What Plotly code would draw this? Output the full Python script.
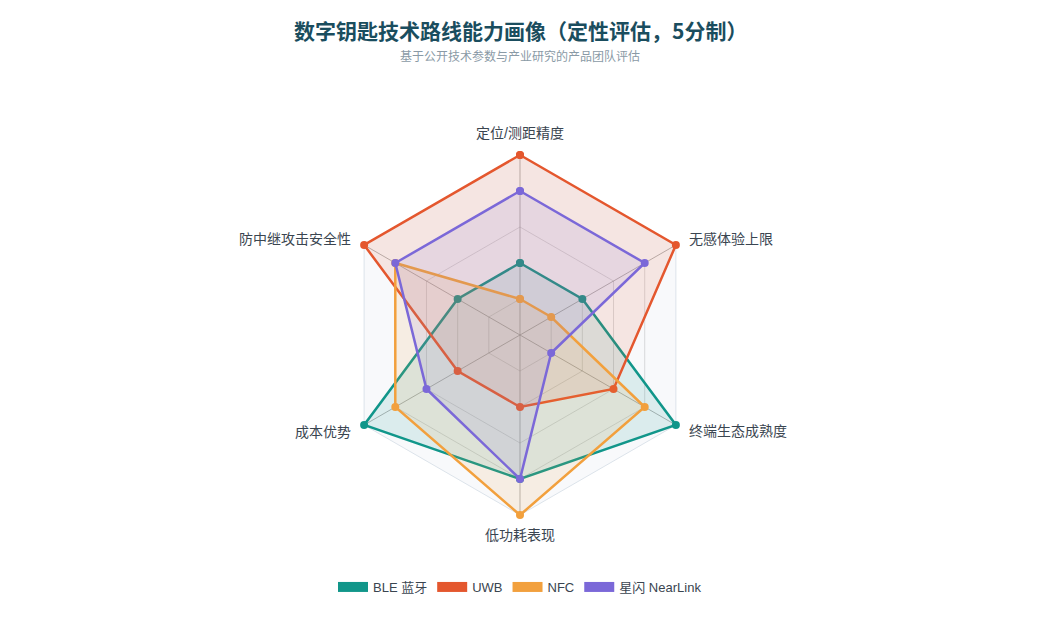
import math

import plotly.graph_objects as go

# 雷达维度（顺时针，从正上方开始）
dimensions = ['定位/测距精度', '无感体验上限', '终端生态成熟度', '低功耗表现', '成本优势', '防中继攻击安全性']
max_score = 5

series_names = ['BLE 蓝牙', 'UWB', 'NFC', '星闪 NearLink']
ble_scores = [2, 2, 5, 4, 5, 2]
uwb_scores = [5, 5, 3, 2, 2, 5]
nfc_scores = [1, 1, 4, 5, 4, 4]
nearlink_scores = [4, 4, 1, 4, 3, 4]

colors = ['#11968a', '#e4572e', '#f2a03d', '#7b68d8']
fills = ['rgba(17,150,138,0.12)', 'rgba(228,87,46,0.12)', 'rgba(242,160,61,0.12)', 'rgba(123,104,216,0.12)']

font_family = 'Liberation Sans, Noto Sans CJK SC, sans-serif'

# page has an 8px body margin, so the figure is 1024x604 and positions are offset
W, H, OFF = 1024, 604, 8
CX, CY, RADIUS = 520, 335, 180
PAD = 1.04  # a little headroom so the outer markers are not clipped


def px_x(x):
    return (x - OFF) / W


def px_y(y):
    return 1 - (y - OFF) / H


def closed(values):
    return list(values) + [values[0]]


fig = go.Figure()

# outer ring + faint background
fig.add_trace(go.Scatterpolar(
    r=closed([max_score] * len(dimensions)), theta=closed(dimensions), mode='lines',
    fill='toself', fillcolor='rgba(226,232,240,0.25)', line=dict(color='#dce3ea', width=1),
    hoverinfo='skip', showlegend=False))

# spokes
spoke_r, spoke_theta = [], []
for dim in dimensions:
    spoke_r += [0, max_score, None]
    spoke_theta += [dim, dim, None]
fig.add_trace(go.Scatterpolar(
    r=spoke_r, theta=spoke_theta, mode='lines', connectgaps=False,
    line=dict(color='rgba(150,150,150,0.7)', width=1), hoverinfo='skip', showlegend=False))

all_scores = [ble_scores, uwb_scores, nfc_scores, nearlink_scores]
for name, scores, color, fill in zip(series_names, all_scores, colors, fills):
    fig.add_trace(go.Scatterpolar(
        r=closed(scores), theta=closed(dimensions), name=name,
        mode='lines+markers', fill='toself', fillcolor=fill,
        line=dict(color=color, width=2.5), marker=dict(color=color, size=8),
        cliponaxis=False, showlegend=False, hoverinfo='name+r+theta'))

# legend swatches (solid blocks like the original)
for name, color in zip(series_names, colors):
    fig.add_trace(go.Scatterpolar(
        r=[None], theta=[dimensions[0]], name=name, mode='lines',
        line=dict(color=color, width=14), showlegend=True))

# axis names placed like the original (outside each vertex)
label_annotations = []
n = len(dimensions)
for i, dim in enumerate(dimensions):
    ang = 2 * math.pi * i / n
    s, c = math.sin(ang), math.cos(ang)
    if c > 0.9:
        gap = 22
    elif c < -0.9:
        gap = 20
    else:
        gap = 13
    lx = CX + (RADIUS + gap) * s
    ly = CY - (RADIUS + gap) * c
    xanchor = 'left' if s > 0.1 else ('right' if s < -0.1 else 'center')
    label_annotations.append(dict(
        text=dim, x=px_x(lx), y=px_y(ly), xref='paper', yref='paper', showarrow=False,
        xanchor=xanchor, yanchor='middle',
        font=dict(size=14, color='#3a4550', family=font_family)))

outer = RADIUS * PAD
fig.update_layout(
    width=W, height=H,
    margin=dict(l=0, r=0, t=0, b=0),
    paper_bgcolor='white',
    font=dict(family=font_family, color='#333f48'),
    polar=dict(
        domain=dict(x=[px_x(CX - outer), px_x(CX + outer)],
                    y=[px_y(CY + outer), px_y(CY - outer)]),
        gridshape='linear',
        bgcolor='rgba(0,0,0,0)',
        radialaxis=dict(range=[0, max_score * PAD], tickvals=[1, 2, 3, 4], showticklabels=False,
                        ticks='', showline=False, gridcolor='rgba(160,160,160,0.45)', gridwidth=1),
        angularaxis=dict(direction='clockwise', rotation=90, ticks='', showticklabels=False,
                         showgrid=False, showline=False),
    ),
    legend=dict(orientation='h', x=px_x(520), xanchor='center', y=px_y(587), yanchor='middle',
                font=dict(size=13, color='#3a4550', family=font_family)),
    annotations=[
        dict(text='<b>数字钥匙技术路线能力画像（定性评估，5分制）</b>', x=px_x(520), y=px_y(30),
             xref='paper', yref='paper', showarrow=False, yanchor='middle',
             font=dict(size=21, color='#1a4d5e', family='Noto Sans CJK SC')),
        dict(text='基于公开技术参数与产业研究的产品团队评估', x=px_x(520), y=px_y(55),
             xref='paper', yref='paper', showarrow=False, yanchor='middle',
             font=dict(size=12, color='#8a9aa6', family='Noto Sans CJK SC')),
    ] + label_annotations,
)

fig.write_html("out.html")
